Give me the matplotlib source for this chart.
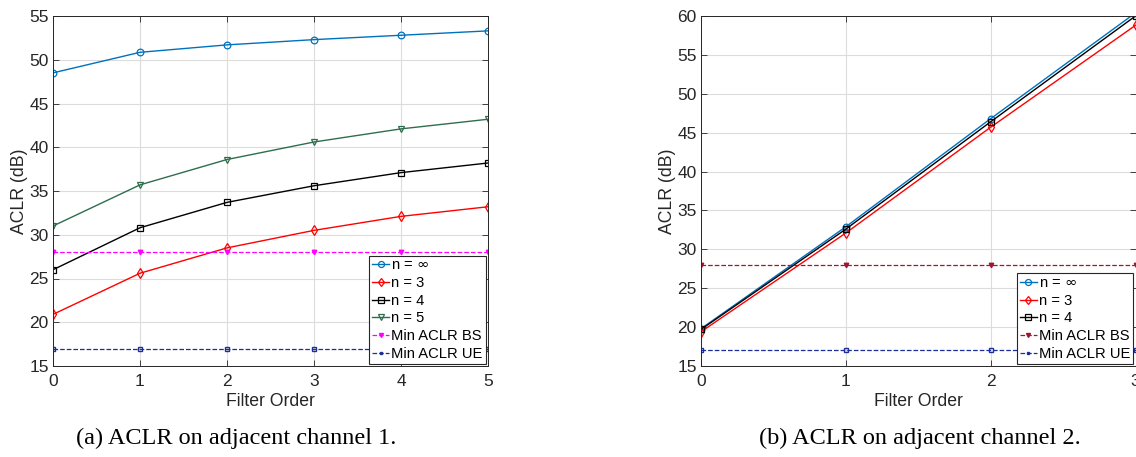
import matplotlib
matplotlib.use("Agg")
import matplotlib.pyplot as plt
import numpy as np

plt.rcParams['font.family'] = ['Liberation Sans', 'DejaVu Sans']

# ---- data (a) adjacent channel 1
x_a = [0, 1, 2, 3, 4, 5]
a_inf = [48.5, 50.85, 51.7, 52.3, 52.8, 53.3]
a_n3 = [20.9, 25.6, 28.5, 30.5, 32.1, 33.2]
a_n4 = [26.0, 30.8, 33.7, 35.6, 37.1, 38.2]
a_n5 = [31.0, 35.7, 38.6, 40.6, 42.1, 43.2]
a_bs = [28, 28, 28, 28, 28, 28]
a_ue = [17, 17, 17, 17, 17, 17]

# ---- data (b) adjacent channel 2
x_b = [0, 1, 2, 3]
b_inf = [19.8, 32.9, 46.8, 60.4]
b_n3 = [19.4, 32.1, 45.7, 58.8]
b_n4 = [19.7, 32.6, 46.4, 60.0]
b_bs = [28, 28, 28, 28]
b_ue = [17, 17, 17, 17]

W, H = 1136, 457
fig = plt.figure(figsize=(W/100, H/100), dpi=100)

def px(l, t, r, b):
    return [l/W, 1 - b/H, (r-l)/W, (b-t)/H]

ax1 = fig.add_axes(px(53, 16, 488, 366))
ax2 = fig.add_axes(px(701, 16, 1135.5, 366))

blue = '#0072BD'
red = '#FF0000'
green = '#2E6E4E'
magenta = '#FF00FF'
darkred = '#A2142F'
navy = '#1C2E99'

def style(ax, xlim, ylim, yticks, xticks):
    ax.set_xlim(*xlim)
    ax.set_ylim(*ylim)
    ax.set_xticks(xticks)
    ax.set_yticks(yticks)
    ax.grid(True, color='#DCDCDC', linewidth=0.8)
    ax.set_axisbelow(True)
    ax.tick_params(direction='in', top=True, right=True, labelsize=12.5,
                   colors='#262626', length=4, width=0.6, pad=3)
    ax.tick_params(axis='x', pad=6)
    for s in ax.spines.values():
        s.set_color('#262626')
        s.set_linewidth(0.7)
    ax.set_xlabel('Filter Order', fontsize=12.7, color='#262626', labelpad=3)
    ax.set_ylabel('ACLR (dB)', fontsize=12.7, color='#262626', labelpad=1)

mk = dict(markerfacecolor='none', markersize=4.8, markeredgewidth=0.9, linewidth=1.0)

ax1.plot(x_a, a_inf, '-o', color=blue, label=r'n = $\infty$', **mk)
ax1.plot(x_a, a_n3, '-d', color=red, label='n = 3', **mk)
ax1.plot(x_a, a_n4, '-s', color='black', label='n = 4', **mk)
ax1.plot(x_a, a_n5, '-v', color=green, label='n = 5', **mk)
ax1.plot(x_a, a_bs, '--v', color=magenta, label='Min ACLR BS', markersize=3.2,
         markerfacecolor=magenta, linewidth=0.9)
ax1.plot(x_a, a_ue, '--s', color=navy, label='Min ACLR UE', markersize=2.3,
         markerfacecolor='none', linewidth=0.9)
style(ax1, (0, 5), (15, 55), range(15, 56, 5), range(0, 6))

ax2.plot(x_b, b_inf, '-o', color=blue, label=r'n = $\infty$', **mk)
ax2.plot(x_b, b_n3, '-d', color=red, label='n = 3', **mk)
ax2.plot(x_b, b_n4, '-s', color='black', label='n = 4', **mk)
ax2.plot(x_b, b_bs, '--v', color=darkred, label='Min ACLR BS', markersize=3.2,
         markerfacecolor=darkred, linewidth=0.9)
ax2.plot(x_b, b_ue, '--s', color=navy, label='Min ACLR UE', markersize=2.3,
         markerfacecolor='none', linewidth=0.9)
style(ax2, (0, 3), (15, 60), range(15, 61, 5), range(0, 4))

for ax in (ax1, ax2):
    leg = ax.legend(loc='lower right', fontsize=10.6, frameon=True, fancybox=False,
                    borderpad=0.2, labelspacing=0.25, handlelength=1.15,
                    handletextpad=0.15, borderaxespad=0.15, framealpha=1,
                    markerscale=0.9)
    leg.get_frame().set_edgecolor('#262626')
    leg.get_frame().set_linewidth(0.8)

fig.text(236/W, 1 - 438/H, '(a) ACLR on adjacent channel 1.', ha='center', va='center',
         fontsize=17.5, family='Liberation Serif')
fig.text(920/W, 1 - 438/H, '(b) ACLR on adjacent channel 2.', ha='center', va='center',
         fontsize=17.5, family='Liberation Serif')

fig.savefig('out.png', dpi=100)
